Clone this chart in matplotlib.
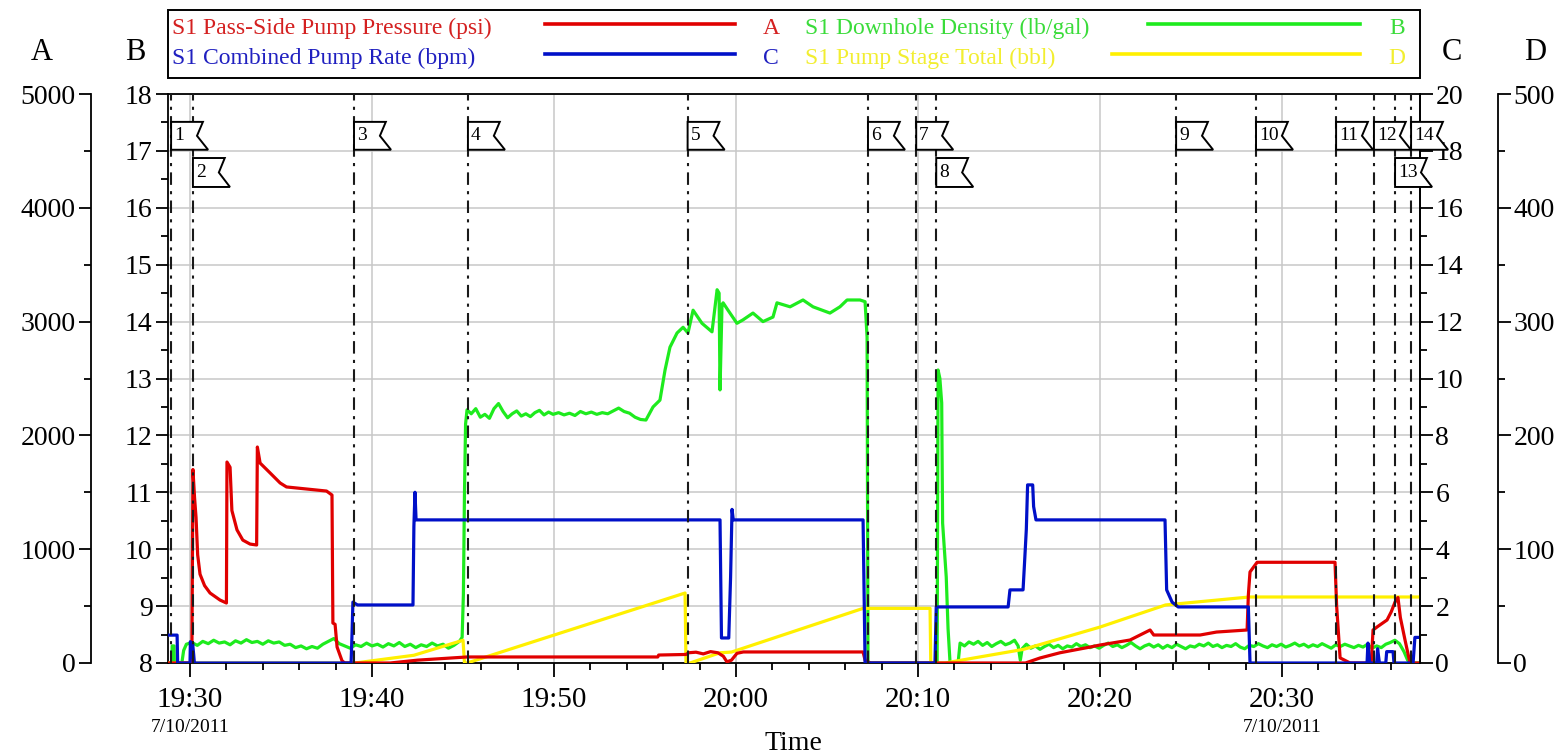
import matplotlib
matplotlib.use("Agg")
import matplotlib.pyplot as plt
import matplotlib.transforms as mtransforms
from matplotlib.lines import Line2D
from matplotlib.patches import Rectangle, Polygon
from matplotlib.ticker import MultipleLocator

plt.rcParams['font.family'] = ['Liberation Serif', 'DejaVu Serif']

# ---------------- data (time = minutes after 19:30, 7/10/2011) ----------------
t_start, t_end = -1.21, 67.58
x_tick_minutes = [0, 10, 20, 30, 40, 50, 60]
x_tick_labels = ['19:30', '19:40', '19:50', '20:00', '20:10', '20:20', '20:30']
date_label = '7/10/2011'
date_label_minutes = [0, 60]

series_names = ['S1 Pass-Side Pump Pressure (psi)', 'S1 Downhole Density (lb/gal)',
                'S1 Combined Pump Rate (bpm)', 'S1 Pump Stage Total (bbl)']
series_axes = ['A', 'B', 'C', 'D']

pressure_t = [-1.21, 0.10, 0.16, 0.25, 0.33, 0.42, 0.55, 0.80, 1.10, 1.65, 2.00,
              2.03, 2.20, 2.30, 2.58, 2.90, 3.30, 3.66,
              3.70, 3.85, 4.40, 4.95, 5.30, 6.40, 7.50, 7.80,
              7.85, 7.97, 8.08, 8.35, 8.50, 11.0, 12.5, 15.22, 25.70, 25.75, 27.25,
              27.40, 27.80, 28.20, 28.60, 29.00, 29.30, 29.50, 29.75, 30.05, 30.40,
              36.98, 37.10, 37.40, 45.90, 46.70, 47.80, 49.45, 50.00, 51.65, 52.75,
              52.95, 55.50, 56.40, 58.08, 58.15, 58.24, 58.63, 62.91, 63.00, 63.19,
              63.74, 64.90, 65.00, 65.25, 65.77, 66.00, 66.21, 66.37, 66.50, 66.76,
              67.03, 67.58]
pressure_psi = [0, 0, 1700, 1450, 1280, 950, 780, 680, 615, 553, 527,
                1766, 1720, 1340, 1170, 1080, 1045, 1037,
                1898, 1757, 1670, 1582, 1547, 1529, 1511, 1476,
                351, 340, 140, 20, 0, 0, 25, 53, 53, 70, 75,
                90, 95, 80, 100, 90, 60, 10, 25, 85, 97,
                97, 20, 0, 0, 44, 90, 140, 158, 202, 290,
                246, 246, 272, 290, 600, 800, 885, 885, 500, 45,
                0, 0, 290, 320, 378, 450, 536, 575, 400, 200,
                0, 0]

rate_t = [-1.21, -0.71, -0.68, 0.00, 0.02, 0.10, 0.14, 0.20, 0.24, 8.85, 8.90, 8.95,
          9.20, 12.25, 12.30, 12.36, 12.42, 29.12, 29.20, 29.60, 29.70, 29.78, 29.85,
          36.98, 37.09, 40.93, 41.00, 44.95, 45.05, 45.77, 45.85, 45.95, 46.02, 46.30,
          46.35, 46.48, 53.57, 53.66, 53.96, 54.29, 58.15, 58.24, 64.67, 64.72, 64.82,
          65.20, 65.25, 65.35, 65.70, 65.75, 66.10, 66.15, 67.20, 67.30, 67.58]
rate_bpm = [0.98, 0.98, 0, 0, 0.75, 0.2, 0.7, 0.3, 0, 0, 1.0, 2.14,
            2.04, 2.04, 4.8, 6.0, 5.03, 5.03, 0.88, 0.88, 3.0, 5.4, 5.03,
            5.03, 0, 0, 1.97, 1.97, 2.57, 2.57, 3.5, 4.7, 6.26, 6.26,
            5.5, 5.03, 5.03, 2.57, 2.14, 1.97, 1.97, 0, 0, 0.7, 0,
            0, 0.5, 0, 0, 0.4, 0.4, 0, 0, 0.9, 0.9]

density_t = [-1.21, -1.00, -0.98, -0.88, -0.86, -0.45, -0.35, -0.20,
             0.10, 0.40, 0.70, 1.00, 1.30, 1.60, 1.90, 2.20, 2.50, 2.80, 3.10, 3.40,
             3.70, 4.00, 4.30, 4.60, 4.90, 5.20, 5.50, 5.80, 6.10, 6.40, 6.70, 7.00,
             7.30, 7.60, 7.90, 8.20, 8.50, 8.80, 9.10, 9.40, 9.70, 10.00, 10.30, 10.60,
             10.90, 11.20, 11.50, 11.80, 12.10, 12.40, 12.70, 13.00, 13.30, 13.60, 13.90,
             14.20, 14.50, 14.80, 14.95, 15.02, 15.08, 15.14, 15.22,
             15.45, 15.70, 15.95, 16.20, 16.45, 16.70, 16.95, 17.20, 17.45, 17.70, 17.95,
             18.20, 18.45, 18.70, 18.95, 19.20, 19.45, 19.70, 19.95, 20.25, 20.55, 20.85,
             21.15, 21.45, 21.75, 22.05, 22.35, 22.65, 22.95, 23.25, 23.55, 23.85, 24.15,
             24.45, 24.75, 25.05, 25.44, 25.82, 26.10, 26.37, 26.76, 27.09, 27.36, 27.64,
             28.13, 28.68, 28.96, 29.07, 29.12, 29.23, 29.29, 29.56, 30.05, 30.38, 30.93,
             31.48, 32.03, 32.25, 32.97, 33.68, 34.23, 35.16, 35.71, 36.10, 36.81, 37.09,
             37.20, 37.25, 41.05, 41.10, 41.20, 41.30, 41.35, 41.55, 41.65, 41.76, 42.20,
             42.31, 42.55, 42.80, 43.05, 43.30, 43.55, 43.80, 44.05, 44.30, 44.55, 44.80,
             45.05, 45.30, 45.50, 45.62, 45.72, 45.95, 46.20, 46.45, 46.70, 46.95, 47.20,
             47.45, 47.70, 47.95, 48.20, 48.45, 48.70, 48.95, 49.20, 49.45, 49.70, 49.95,
             50.20, 50.45, 50.70, 50.95, 51.20, 51.45, 51.70, 51.95, 52.20, 52.45, 52.70,
             52.95, 53.20, 53.45, 53.70, 53.95, 54.20, 54.45, 54.70, 54.95, 55.20, 55.45,
             55.70, 55.95, 56.20, 56.45, 56.70, 56.95, 57.20, 57.45, 57.70, 57.95, 58.20,
             58.45, 58.70, 58.95, 59.20, 59.45, 59.70, 59.95, 60.20, 60.45, 60.70, 60.95,
             61.20, 61.45, 61.70, 61.95, 62.20, 62.45, 62.70, 62.95, 63.20, 63.45, 63.70,
             63.95, 64.20, 64.45, 64.70, 64.95, 65.20, 65.45, 65.70, 65.95, 66.20, 66.45,
             66.70, 66.90, 67.05, 67.58]
density_ppg = [8.00, 8.00, 8.30, 8.30, 8.00, 8.00, 8.22, 8.33,
               8.36, 8.31, 8.38, 8.34, 8.40, 8.35, 8.37, 8.32, 8.39, 8.35, 8.41, 8.36,
               8.38, 8.33, 8.39, 8.35, 8.37, 8.31, 8.33, 8.27, 8.30, 8.25, 8.29, 8.26,
               8.33, 8.38, 8.43, 8.34, 8.30, 8.26, 8.32, 8.29, 8.35, 8.30, 8.33, 8.28,
               8.34, 8.30, 8.36, 8.29, 8.33, 8.27, 8.32, 8.29, 8.35, 8.30, 8.33,
               8.26, 8.31, 8.38, 8.45, 9.20, 11.00, 12.20, 12.45,
               12.38, 12.47, 12.32, 12.37, 12.30, 12.47, 12.56, 12.42, 12.31, 12.38, 12.43,
               12.34, 12.38, 12.33, 12.40, 12.44, 12.36, 12.41, 12.37, 12.40, 12.36, 12.39,
               12.35, 12.42, 12.38, 12.41, 12.37, 12.40, 12.38, 12.43, 12.48, 12.42, 12.39,
               12.32, 12.28, 12.27, 12.50, 12.62, 13.15, 13.55, 13.80, 13.90, 13.80, 14.20,
               13.97, 13.82, 14.56, 14.50, 12.80, 14.30, 14.33, 14.20, 13.97, 14.03, 14.15,
               14.00, 14.08, 14.33, 14.26, 14.38, 14.26, 14.15, 14.26, 14.38, 14.38, 14.35,
               13.73, 8.00, 8.00, 13.15, 13.00, 12.57, 10.46, 9.51, 8.60, 8.00, 8.00,
               8.35, 8.30, 8.37, 8.33, 8.38, 8.31, 8.36, 8.29, 8.34, 8.38, 8.32,
               8.35, 8.40, 8.30, 8.05, 8.25, 8.33, 8.26, 8.30, 8.24, 8.29, 8.33,
               8.27, 8.31, 8.25, 8.30, 8.28, 8.34, 8.29, 8.32, 8.27, 8.30, 8.26,
               8.31, 8.35, 8.29, 8.32, 8.27, 8.31, 8.36, 8.30, 8.25, 8.30, 8.33,
               8.28, 8.32, 8.26, 8.31, 8.27, 8.33, 8.29, 8.25, 8.30, 8.28, 8.33,
               8.30, 8.35, 8.29, 8.32, 8.27, 8.31, 8.29, 8.34, 8.28, 8.25, 8.31,
               8.29, 8.34, 8.30, 8.27, 8.32, 8.29, 8.33, 8.28, 8.31, 8.35, 8.30,
               8.33, 8.28, 8.32, 8.29, 8.34, 8.30, 8.26, 8.32, 8.29, 8.33, 8.30,
               8.27, 8.31, 8.28, 8.33, 8.26, 8.30, 8.27, 8.33, 8.36, 8.40, 8.34,
               8.20, 8.05, 8.00, 8.00]

stage_t = [-1.21, 9.07, 12.30, 15.00, 15.08, 15.22, 27.20, 27.25, 27.47, 29.12, 29.75,
           36.98, 40.66, 40.70, 41.48, 45.80, 50.00, 53.60, 58.20, 67.58]
stage_bbl = [0, 0, 6.8, 20, 0, 0, 61.5, 0, 0, 9.0, 9.6,
             48, 48, 0, 0, 12, 31.6, 51, 58, 58]

event_t = [-1.04, 0.16, 9.01, 15.27, 27.34, 37.25, 39.90, 41.00, 54.18, 58.57,
           62.97, 65.05, 66.21, 67.09]
event_labels = ['1', '2', '3', '4', '5', '6', '7', '8', '9', '10', '11', '12', '13', '14']
event_rows = [0, 1, 0, 0, 0, 0, 0, 1, 0, 0, 0, 0, 1, 0]

# ---------------- styling ----------------
RED, BLUE, GREEN, YELLOW = '#E00000', '#0010C8', '#1EEB1E', '#FFF000'
TXT_COLORS = ['#D42020', '#3ADC3A', '#2020C0', '#F2EE30']
LINE_COLORS = [RED, GREEN, BLUE, YELLOW]
LW = 2.3

W_PX, H_PX = 1561, 756
fig = plt.figure(figsize=(W_PX / 100, H_PX / 100), dpi=100)
fig.patch.set_facecolor('white')


def fx(x):
    return x / W_PX


def fy(y):
    return 1 - y / H_PX


L, R, T, B = 168, 1420, 94, 663
ax = fig.add_axes([fx(L), fy(B), fx(R) - fx(L), fy(T) - fy(B)])
axA = ax.twinx()
axC = ax.twinx()
axD = ax.twinx()
ax.set_zorder(0)
axD.set_zorder(1)
axA.set_zorder(2)
axC.set_zorder(3)
ax.set_axisbelow(True)

ax.plot(density_t, density_ppg, color=GREEN, lw=LW, solid_joinstyle='round')
axD.plot(stage_t, stage_bbl, color=YELLOW, lw=LW)
axA.plot(pressure_t, pressure_psi, color=RED, lw=LW)
axC.plot(rate_t, rate_bpm, color=BLUE, lw=LW)

ax.set_xlim(t_start, t_end)
ax.set_ylim(8, 18)
axA.set_ylim(0, 5000)
axC.set_ylim(0, 20)
axD.set_ylim(0, 500)

SPW = 1.3
# host (B axis, time axis)
for s in ax.spines.values():
    s.set_linewidth(SPW)
ax.set_xticks(x_tick_minutes)
ax.set_xticklabels(x_tick_labels)
ax.xaxis.set_minor_locator(MultipleLocator(2))
ax.yaxis.set_major_locator(MultipleLocator(1))
ax.yaxis.set_minor_locator(MultipleLocator(0.5))
ax.tick_params(axis='x', which='major', length=10, width=SPW, labelsize=21, pad=7)
ax.tick_params(axis='x', which='minor', length=5, width=SPW)
ax.tick_params(axis='y', which='major', length=9, width=SPW, labelsize=20, pad=2)
ax.tick_params(axis='y', which='minor', length=5, width=SPW)
ax.grid(True, which='major', color='#c8c8c8', lw=1.1)

# A axis (outer left)
for k in ['right', 'top', 'bottom']:
    axA.spines[k].set_visible(False)
axA.spines['left'].set_visible(True)
axA.spines['left'].set_position(('outward', 77 * 0.72))
axA.spines['left'].set_linewidth(SPW)
axA.yaxis.set_ticks_position('left')
axA.yaxis.set_major_locator(MultipleLocator(1000))
axA.yaxis.set_minor_locator(MultipleLocator(500))
axA.tick_params(axis='y', which='major', length=9, width=SPW, labelsize=20, pad=2)
axA.tick_params(axis='y', which='minor', length=5, width=SPW)

# C axis (inner right)
for k in ['left', 'top', 'bottom']:
    axC.spines[k].set_visible(False)
axC.spines['right'].set_linewidth(SPW)
axC.yaxis.set_major_locator(MultipleLocator(2))
axC.yaxis.set_minor_locator(MultipleLocator(1))
axC.tick_params(axis='y', which='major', length=9, width=SPW, labelsize=20, pad=2)
axC.tick_params(axis='y', which='minor', length=5, width=SPW)

# D axis (outer right)
for k in ['left', 'top', 'bottom']:
    axD.spines[k].set_visible(False)
axD.spines['right'].set_position(('outward', 78 * 0.72))
axD.spines['right'].set_linewidth(SPW)
axD.yaxis.set_major_locator(MultipleLocator(100))
axD.yaxis.set_minor_locator(MultipleLocator(50))
axD.tick_params(axis='y', which='major', length=9, width=SPW, labelsize=20, pad=2)
axD.tick_params(axis='y', which='minor', length=5, width=SPW)

# date labels under time ticks
dtrans = mtransforms.blended_transform_factory(ax.transData, ax.transAxes)
for tm in date_label_minutes:
    ax.text(tm, -0.113, date_label, transform=dtrans, ha='center', va='center',
            fontsize=14)
fig.text(fx(793), fy(743), 'Time', ha='center', va='center', fontsize=20)

# axis letters
for letter, xp in zip(series_axes, [42, 135, 1452, 1535]):
    fig.text(fx(xp), fy(52), letter, ha='center', va='center', fontsize=22)

# event markers with flags
for tm in event_t:
    axC.axvline(tm, color='#1a1a1a', lw=1.5, ls=(0, (6, 3, 1.5, 3)), zorder=5)
span = t_end - t_start
fw = 37 / (R - L)
row_box = [(0.951, 0.902), (0.8875, 0.8366)]
for tm, lab, row in zip(event_t, event_labels, event_rows):
    x0 = (tm - t_start) / span
    top, bot = row_box[row]
    mid = (top + bot) / 2
    poly = Polygon([(x0, top), (x0 + 0.86 * fw, top), (x0 + 0.70 * fw, mid),
                    (x0 + fw, bot), (x0, bot)], closed=True, fc='white', ec='black',
                   lw=1.4, transform=axC.transAxes, clip_on=False, zorder=6)
    axC.add_patch(poly)
    axC.text(x0 + 0.08 * fw, mid, lab, transform=axC.transAxes, ha='left',
             va='center', fontsize=14, clip_on=False, zorder=7)

# legend box
fig.add_artist(Rectangle((fx(168), fy(78)), fx(1420) - fx(168), fy(10) - fy(78),
                         transform=fig.transFigure, fill=False, ec='black', lw=1.4))
legend_slots = [(172, 28, 545, 735, 771), (805, 28, 1148, 1360, 1397),
                (172, 58, 545, 735, 771), (805, 58, 1112, 1360, 1397)]
for name, letter, tc, lc, slot in zip(series_names, series_axes, TXT_COLORS,
                                      LINE_COLORS, legend_slots):
    xt, yt, xl0, xl1, xa = slot
    fig.text(fx(xt), fy(yt), name, color=tc, ha='left', va='center', fontsize=17)
    fig.add_artist(Line2D([fx(xl0), fx(xl1)], [fy(yt - 4), fy(yt - 4)],
                          transform=fig.transFigure, color=lc, lw=2.6))
    fig.text(fx(xa), fy(yt), letter, color=tc, ha='center', va='center', fontsize=17)

fig.savefig('out.png', dpi=100, facecolor='white')
